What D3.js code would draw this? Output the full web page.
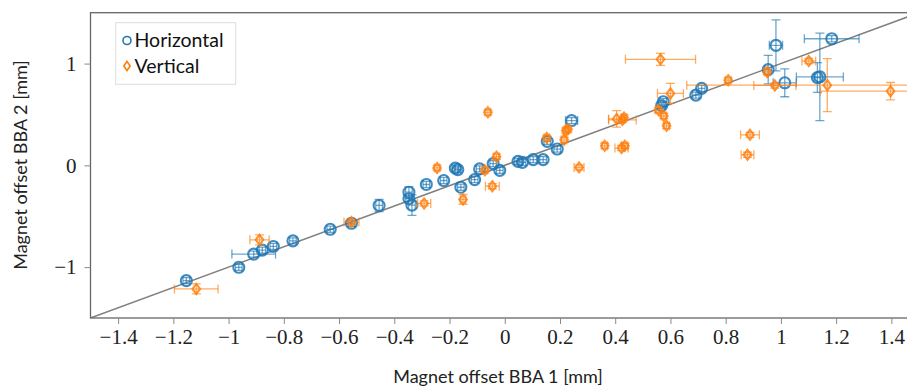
<!DOCTYPE html>
<html><head><meta charset="utf-8">
<script src="https://cdn.jsdelivr.net/npm/d3@7"></script>
<style>
html,body{margin:0;padding:0;background:#fff;}
svg{display:block;}
</style></head>
<body>
<svg id="chart" width="907" height="387"></svg>
<script>
// ---- data ----
const xTicks = [-1.4,-1.2,-1,-0.8,-0.6,-0.4,-0.2,0,0.2,0.4,0.6,0.8,1,1.2,1.4];
const xTickLabels = ["−1.4","−1.2","−1","−0.8","−0.6","−0.4","−0.2","0","0.2","0.4","0.6","0.8","1","1.2","1.4"];
const yTicks = [-1,0,1];
const yTickLabels = ["−1","0","1"];
const seriesNames = ["Horizontal","Vertical"];

const hX  = [-1.153,-0.963,-0.909,-0.878,-0.838,-0.767,-0.632,-0.555,-0.455,-0.347,-0.347,-0.336,-0.284,-0.221,-0.179,-0.170,-0.159,-0.109,-0.091,-0.042,-0.018,0.048,0.064,0.103,0.139,0.154,0.190,0.242,0.574,0.568,0.692,0.713,0.954,0.982,1.014,1.132,1.141,1.184];
const hY  = [-1.133,-1.002,-0.872,-0.833,-0.797,-0.742,-0.628,-0.569,-0.394,-0.264,-0.328,-0.391,-0.188,-0.149,-0.027,-0.042,-0.215,-0.140,-0.035,0.017,-0.049,0.039,0.029,0.056,0.056,0.236,0.160,0.440,0.625,0.586,0.690,0.756,0.941,1.179,0.811,0.863,0.869,1.244];
const hXe = [0.012,0.012,0.079,0.012,0.012,0.012,0.012,0.012,0.012,0.012,0.012,0.012,0.012,0.012,0.012,0.012,0.012,0.012,0.012,0.012,0.012,0.012,0.012,0.012,0.012,0.012,0.012,0.022,0.012,0.012,0.012,0.012,0.012,0.024,0.042,0.012,0.085,0.099];
const hYe = [0.03,0.03,0.03,0.03,0.03,0.03,0.03,0.03,0.06,0.055,0.03,0.10,0.03,0.03,0.03,0.03,0.03,0.03,0.03,0.03,0.03,0.03,0.03,0.03,0.03,0.03,0.03,0.03,0.03,0.03,0.03,0.03,0.14,0.25,0.137,0.146,0.43,0.03];

const vX  = [-1.117,-0.888,-0.555,-0.292,-0.245,-0.151,-0.072,-0.061,-0.045,-0.030,0.152,0.215,0.221,0.229,0.269,0.362,0.423,0.435,0.405,0.426,0.432,0.556,0.576,0.586,0.564,0.600,0.809,0.879,0.888,0.950,0.978,1.101,1.168,1.397];
const vY  = [-1.214,-0.732,-0.557,-0.374,-0.025,-0.335,-0.049,0.521,-0.205,0.085,0.270,0.251,0.342,0.355,-0.020,0.192,0.170,0.192,0.456,0.446,0.470,0.544,0.485,0.388,1.042,0.707,0.837,0.104,0.300,0.918,0.785,1.025,0.788,0.729];
const vXe = [0.079,0.035,0.027,0.024,0.010,0.010,0.010,0.010,0.025,0.010,0.010,0.010,0.010,0.010,0.018,0.010,0.024,0.010,0.029,0.050,0.010,0.010,0.010,0.010,0.127,0.047,0.010,0.023,0.034,0.010,0.076,0.025,0.509,0.254];
const vYe = [0.049,0.049,0.025,0.025,0.025,0.049,0.025,0.025,0.025,0.025,0.025,0.025,0.025,0.025,0.025,0.025,0.025,0.025,0.081,0.025,0.025,0.025,0.025,0.025,0.059,0.098,0.025,0.025,0.025,0.025,0.025,0.025,0.26,0.085];

// ---- chart ----
const blue = "#1f77b4", orange = "#ff7f0e";
const svg = d3.select("#chart");
const pL = 90.5, pR = 919, pT = 12.7, pB = 318;
const x = d3.scaleLinear().domain([-1.5,1.5]).range([pL,pR]);
const y = d3.scaleLinear().domain([-1.5,1.5]).range([pB,pT]);

svg.append("defs").append("clipPath").attr("id","clip")
  .append("rect").attr("x",pL).attr("y",pT).attr("width",pR-pL).attr("height",pB-pT);

const plot = svg.append("g").attr("clip-path","url(#clip)");

// diagonal y = x
plot.append("line")
  .attr("x1",x(-1.5)).attr("y1",y(-1.5)).attr("x2",x(1.5)).attr("y2",y(1.5))
  .attr("stroke","#808080").attr("stroke-width",1.5);

function drawSeries(X,Y,XE,YE,color,shape){
  const g = plot.append("g");
  const cap = 4.5;
  const eg = g.append("g").attr("stroke",color).attr("stroke-opacity",0.65).attr("stroke-width",1.3).attr("fill","none");
  X.forEach((xv,i)=>{
    const cx = x(xv), cy = y(Y[i]);
    const x0 = x(xv-XE[i]), x1 = x(xv+XE[i]);
    const y0 = y(Y[i]-YE[i]), y1 = y(Y[i]+YE[i]);
    eg.append("line").attr("x1",x0).attr("x2",x1).attr("y1",cy).attr("y2",cy);
    eg.append("line").attr("x1",x0).attr("x2",x0).attr("y1",cy-cap).attr("y2",cy+cap);
    eg.append("line").attr("x1",x1).attr("x2",x1).attr("y1",cy-cap).attr("y2",cy+cap);
    eg.append("line").attr("x1",cx).attr("x2",cx).attr("y1",y0).attr("y2",y1);
    eg.append("line").attr("x1",cx-cap).attr("x2",cx+cap).attr("y1",y0).attr("y2",y0);
    eg.append("line").attr("x1",cx-cap).attr("x2",cx+cap).attr("y1",y1).attr("y2",y1);
  });
  const mg = g.append("g").attr("stroke",color).attr("stroke-opacity",0.85).attr("stroke-width",2.1).attr("fill","none");
  X.forEach((xv,i)=>{
    const cx = x(xv), cy = y(Y[i]);
    if(shape==="circle"){
      mg.append("circle").attr("cx",cx).attr("cy",cy).attr("r",5.5);
    } else {
      const r = 5, w = 3.8;
      mg.append("path").attr("d",`M${cx},${cy-r}L${cx+w},${cy}L${cx},${cy+r}L${cx-w},${cy}Z`);
    }
  });
}
drawSeries(hX,hY,hXe,hYe,blue,"circle");
drawSeries(vX,vY,vXe,vYe,orange,"diamond");

// frame
svg.append("rect").attr("x",pL).attr("y",pT).attr("width",pR-pL).attr("height",pB-pT)
  .attr("fill","none").attr("stroke","#666").attr("stroke-width",1.3);

// axes
const serif = "'Liberation Serif'";
const xAxis = d3.axisBottom(x).tickValues(xTicks).tickSize(6).tickPadding(5)
  .tickFormat((d,i)=>xTickLabels[i]);
const gx = svg.append("g").attr("transform",`translate(0,${pB})`).call(xAxis);
const yAxis = d3.axisLeft(y).tickValues(yTicks).tickSize(6).tickPadding(8)
  .tickFormat((d,i)=>yTickLabels[i]);
const gy = svg.append("g").attr("transform",`translate(${pL},0)`).call(yAxis);
[gx,gy].forEach(g=>{
  g.attr("font-family",null).attr("font-size",null);
  g.select(".domain").remove();
  g.selectAll(".tick line").attr("stroke","#888").attr("stroke-width",1);
  g.selectAll(".tick text").attr("fill","#222")
    .style("font-family",serif).style("font-size","21px");
});

// axis titles
svg.append("text").attr("x",498).attr("y",383).attr("text-anchor","middle")
  .style("font-family","Lato").style("font-size","18px").attr("fill","#222")
  .text("Magnet offset BBA 1 [mm]");
svg.append("text").attr("transform","translate(27,165) rotate(-90)").attr("text-anchor","middle")
  .style("font-family","Lato").style("font-size","18px").attr("fill","#222")
  .text("Magnet offset BBA 2 [mm]");

// legend
const lg = svg.append("g");
lg.append("rect").attr("x",115.7).attr("y",22.7).attr("width",120).attr("height",61.6)
  .attr("fill","#fff").attr("stroke","#ddd").attr("stroke-width",1);
lg.append("circle").attr("cx",127).attr("cy",40.5).attr("r",4).attr("fill","none").attr("stroke",blue).attr("stroke-width",1.6);
lg.append("path").attr("d","M127,61.5L130.2,66L127,70.5L123.8,66Z").attr("fill","none").attr("stroke",orange).attr("stroke-width",1.6);
lg.append("text").attr("x",134.5).attr("y",47).text(seriesNames[0])
  .style("font-family","Lato").style("font-size","19.5px").attr("fill","#111");
lg.append("text").attr("x",134.5).attr("y",73).text(seriesNames[1])
  .style("font-family","Lato").style("font-size","19.5px").attr("fill","#111");
</script>
</body></html>
